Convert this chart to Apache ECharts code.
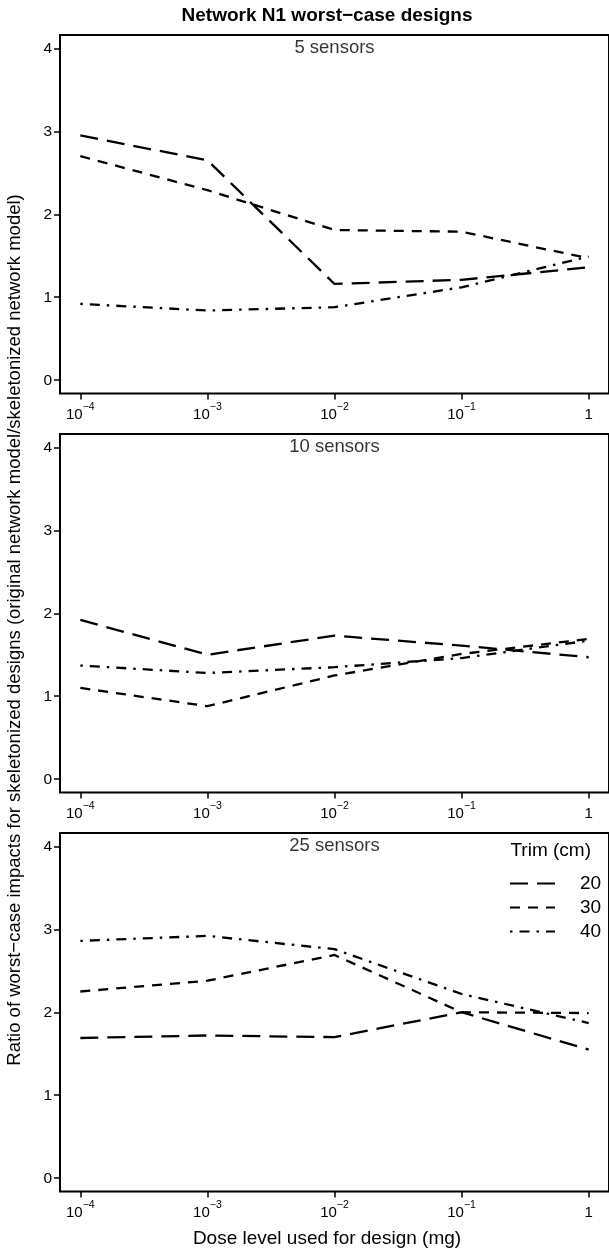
<!DOCTYPE html>
<html>
<head>
<meta charset="utf-8">
<script src="https://cdn.jsdelivr.net/npm/echarts@6/dist/echarts.min.js"></script>
<style>
html,body{margin:0;padding:0;background:#fff;}
#chart{width:609px;height:1253px;}
</style>
</head>
<body>
<div id="chart"></div>
<script>
// x positions: log10 of dose level (mg)
const doseExponents = [-4, -3, -2, -1, 0];
const yTicks = [0, 1, 2, 3, 4];
const panelNames = ['5 sensors', '10 sensors', '25 sensors'];
const trimNames = ['20', '30', '40'];

// 5 sensors
const s5_trim20 = [2.95, 2.65, 1.16, 1.21, 1.36];
const s5_trim30 = [2.70, 2.29, 1.81, 1.79, 1.47];
const s5_trim40 = [0.92, 0.84, 0.88, 1.12, 1.49];
// 10 sensors
const s10_trim20 = [1.92, 1.50, 1.73, 1.61, 1.47];
const s10_trim30 = [1.10, 0.88, 1.25, 1.51, 1.69];
const s10_trim40 = [1.37, 1.28, 1.35, 1.46, 1.67];
// 25 sensors
const s25_trim20 = [1.69, 1.72, 1.70, 2.00, 1.55];
const s25_trim30 = [2.25, 2.38, 2.69, 2.00, 1.99];
const s25_trim40 = [2.86, 2.92, 2.76, 2.22, 1.87];

const panelData = [
  [s5_trim20, s5_trim30, s5_trim40],
  [s10_trim20, s10_trim30, s10_trim40],
  [s25_trim20, s25_trim30, s25_trim40]
];

const FONT = '"Liberation Sans", Arial, Helvetica, sans-serif';
const dashTypes = [[18, 9], [10, 8], [2.5, 7, 10, 7]];
const gridTops = [35, 434, 833];

const chart = echarts.init(document.getElementById('chart'), null, {renderer: 'canvas'});

const grids = [], xAxes = [], yAxes = [], series = [];
gridTops.forEach((t, i) => {
  grids.push({left: 60, right: -2, top: t, height: 358.5, show: true,
    borderColor: '#000', borderWidth: 2, backgroundColor: 'transparent'});
  xAxes.push({
    type: 'value', gridIndex: i, min: -4.16, max: 0.16,
    splitLine: {show: false},
    axisLine: {show: false, onZero: false},
    axisTick: {show: true, length: 6, lineStyle: {color: '#000', width: 1.5}, customValues: doseExponents},
    axisLabel: {
      show: true, margin: 8, color: '#000', customValues: doseExponents,
      formatter: v => v === 0 ? '{b|1}' : '{b|10}{s|\u2212' + Math.abs(v) + '}',
      rich: {
        b: {fontSize: 15, fontFamily: FONT, color: '#000', lineHeight: 21, verticalAlign: 'bottom'},
        s: {fontSize: 10.5, fontFamily: FONT, color: '#000', lineHeight: 10, verticalAlign: 'top'}
      }
    }
  });
  yAxes.push({
    type: 'value', gridIndex: i, min: -0.16, max: 4.16,
    splitLine: {show: false},
    axisLine: {show: false, onZero: false},
    axisTick: {show: true, length: 6, lineStyle: {color: '#000', width: 1.5}, customValues: yTicks},
    axisLabel: {show: true, margin: 8, color: '#000', fontSize: 15.5, fontFamily: FONT, customValues: yTicks}
  });
  panelData[i].forEach((vals, k) => {
    series.push({
      type: 'line', name: trimNames[k], xAxisIndex: i, yAxisIndex: i,
      data: doseExponents.map((x, j) => [x, vals[j]]),
      symbol: 'none', showSymbol: false, silent: true,
      itemStyle: {color: '#000'},
      lineStyle: {color: '#000', width: 2.3, type: dashTypes[k], cap: 'butt'}
    });
  });
  series.push({
    type: 'scatter', xAxisIndex: i, yAxisIndex: i, symbolSize: 0, silent: true,
    data: [[-2, 4]],
    label: {show: true, position: 'inside', formatter: panelNames[i],
      fontSize: 18.5, fontFamily: FONT, color: '#000'}
  });
});

chart.setOption({
  animation: false,
  backgroundColor: '#fff',
  grid: grids, xAxis: xAxes, yAxis: yAxes, series: series,
  legend: {
    data: trimNames, orient: 'vertical', left: 504, top: 869,
    itemWidth: 45, itemHeight: 19, itemGap: 5,
    itemStyle: {opacity: 0, borderWidth: 0},
    textStyle: {fontSize: 19, fontFamily: FONT, color: '#000', padding: [0, 0, 0, 20]},
    selectedMode: false
  },
  graphic: [
    {type: 'text', x: 327, y: 16, style: {text: 'Network N1 worst\u2212case designs', font: 'bold 19px ' + FONT,
      fill: '#000', textAlign: 'center', textVerticalAlign: 'middle'}},
    {type: 'text', x: 327, y: 1239, style: {text: 'Dose level used for design (mg)', font: '19px ' + FONT,
      fill: '#000', textAlign: 'center', textVerticalAlign: 'middle'}},
    {type: 'text', x: 15, y: 630, rotation: Math.PI / 2, style: {
      text: 'Ratio of worst\u2212case impacts for skeletonized designs (original network model/skeletonized network model)',
      font: '18.5px ' + FONT, fill: '#000', textAlign: 'center', textVerticalAlign: 'middle'}},
    {type: 'text', x: 591, y: 851, style: {text: 'Trim (cm)', font: '19px ' + FONT,
      fill: '#000', textAlign: 'right', textVerticalAlign: 'middle'}}
  ]
});
</script>
</body>
</html>
